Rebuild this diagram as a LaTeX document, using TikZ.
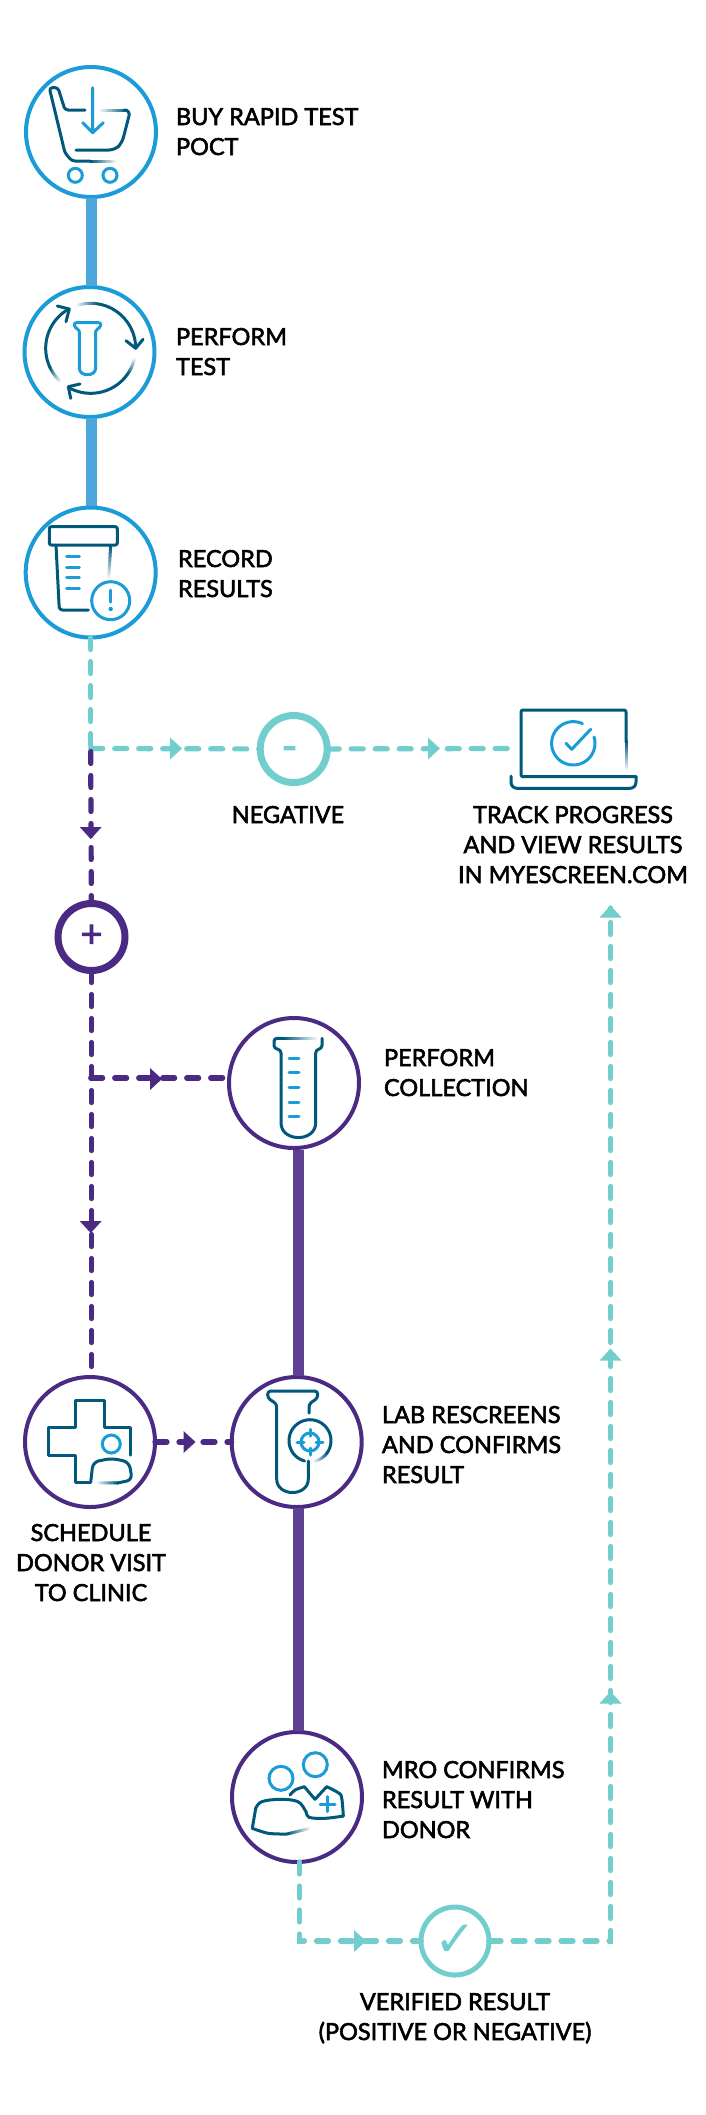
\documentclass[tikz,border=0pt]{standalone}
\usepackage{fontspec}
\setmainfont{Lato}[FakeBold=2.4]
\newfontfamily\dejavu{DejaVu Sans}
\definecolor{bluec}{HTML}{1B9CD8}
\definecolor{barblue}{HTML}{4DA6DC}
\definecolor{purp}{HTML}{4B2A84}
\definecolor{barpurp}{HTML}{5F4194}
\definecolor{tealc}{HTML}{72CECD}
\definecolor{dark}{HTML}{00597B}
\tikzset{
  ring/.style={circle,draw=#1,fill=white,line width=4pt,inner sep=0pt,outer sep=0pt,minimum size=130pt},
  dot/.style={circle,draw=#1,fill=white,line width=7pt,inner sep=0pt,outer sep=0pt,minimum size=67pt},
  lbl/.style={font=\fontsize{23.5}{30}\selectfont,inner sep=0pt,outer sep=0pt,text=black},
  lleft/.style={lbl,align=left,anchor=base west},
  lmid/.style={lbl,align=center,anchor=base},
  tbar/.style={line width=11pt,draw=#1},
  flow/.style={line width=5.2pt,draw=#1,line cap=round,dash pattern=on 12pt off 12pt},
  ic/.style={line width=3pt,draw=dark,line join=round,line cap=round},
  icb/.style={line width=3pt,draw=bluec,line join=round,line cap=round},
}
\newcommand{\tipmark}[4]{\begin{scope}[shift={(#1,#2)},rotate=#3]\fill[#4] (-6,-11) -- (6,0) -- (-6,11) -- cycle;\end{scope}}
\newcommand{\fadeline}[4]{\foreach \i in {0,...,11}{\pgfmathsetmacro\fa{\i/12}\pgfmathsetmacro\fb{min(1,(\i+1.2)/12)}\pgfmathsetmacro\fc{100*(1-\i/12)}\draw[ic,line cap=butt,draw=dark!\fc!white] ({#1+(#3-#1)*\fa},{#2+(#4-#2)*\fa}) -- ({#1+(#3-#1)*\fb},{#2+(#4-#2)*\fb});}}
\newcommand{\fadearc}[5]{\foreach \i in {0,...,11}{\pgfmathsetmacro\fa{#4+(#5-#4)*\i/12}\pgfmathsetmacro\fb{#4+(#5-#4)*min(1,(\i+1.2)/12)}\pgfmathsetmacro\fc{100*(1-\i/12)}\draw[ic,line cap=butt,draw=dark!\fc!white] ({#1+#3*cos(\fa)},{#2-#3*sin(\fa)}) -- ({#1+#3*cos(\fb)},{#2-#3*sin(\fb)});}}
\newcommand{\solidarc}[6]{\draw[#6] plot[domain=#4:#5,samples=40] ({#1+#3*cos(\x)},{#2-#3*sin(\x)});}
\begin{document}
\begin{tikzpicture}[x=1pt,y=-1pt]
\useasboundingbox (0,0) rectangle (705,2115);
% named points
\coordinate (split) at (90.7,748.5);
\coordinate (branch) at (90.7,1078);
\coordinate (lapin) at (513,748.5);
\coordinate (corner1) at (299.5,1941);
\coordinate (corner2) at (610.5,1941);
\coordinate (lapout) at (610.5,908);
% connectors (below nodes)
\node[ring=bluec] (c1) at (91,132) {};
\node[ring=bluec] (c2) at (89.5,352) {};
\node[ring=bluec] (c3) at (90.7,572.5) {};
\node[dot=tealc] (neg) at (293.7,749) {};
\node[dot=purp] (pos) at (91.5,937) {};
\node[ring=purp] (coll) at (294,1083) {};
\node[ring=purp] (clinic) at (90,1442) {};
\node[ring=purp] (lab) at (296.7,1442) {};
\node[ring=purp] (mro) at (297,1797) {};
\node[circle,draw=tealc,fill=white,line width=5pt,inner sep=0pt,outer sep=0pt,minimum size=68pt] (ok) at (455,1941) {};
\draw[tbar=barblue] (91,198) -- (91,286);
\draw[tbar=barblue] (91,418) -- (91,506);
\draw[tbar=barpurp] (298,1150) -- (298,1376);
\draw[tbar=barpurp] (298,1508) -- (298,1731);
\draw[flow=tealc] (c3) -- (split);
\draw[flow=tealc] (split) -- (neg);
\draw[flow=tealc] (neg) -- (lapin);
\draw[flow=purp] ([yshift=-3pt]split) -- (pos);
\draw[flow=purp] (pos) -- (clinic.north -| pos);
\draw[flow=purp] (branch) -- (branch -| coll.west);
\draw[flow=purp] (clinic) -- (lab);
\draw[flow=tealc] (mro.south -| corner1) -- (corner1) -- (ok);
\draw[flow=tealc] (ok) -- (corner2) -- (lapout);
\tipmark{176}{748.5}{0}{tealc}
\tipmark{434}{748.5}{0}{tealc}
\tipmark{90.7}{833}{-90}{purp}
\tipmark{156}{1079}{0}{purp}
\tipmark{90.7}{1227}{-90}{purp}
\tipmark{189.5}{1442}{0}{purp}
\tipmark{360}{1941}{0}{tealc}
\tipmark{610.5}{911.5}{90}{tealc}
\tipmark{610.5}{1354.5}{90}{tealc}
\tipmark{610.5}{1697.5}{90}{tealc}
% cart
\draw[ic,rounded corners=3pt] (85,110) -- (65,110) -- (58,87.7) -- (49.3,87.7) -- (65,153) -- (72,161) -- (90,161);
\fadeline{90}{161}{116}{161}
\fadeline{128}{110}{100}{110}
\draw[ic,rounded corners=6pt] (125,110) -- (130.5,110) -- (122,143) -- (115,150) -- (76,150);
\draw[icb] (92.7,87.7) -- (92.7,132.7) (82.7,122.7) -- (92.7,132.7) -- (103.3,122.7);
\node[circle,draw=bluec,line width=3pt,minimum size=14pt,inner sep=0pt] (wheelA) at (75.3,175.3) {};
\node[circle,draw=bluec,line width=3pt,minimum size=14pt,inner sep=0pt] (wheelB) at (110,175.3) {};
% cycle + tube
\fadearc{90.7}{348.3}{45}{80}{108}
\solidarc{90.7}{348.3}{45}{80}{0}{ic}
\draw[ic] (126,340.7) -- (135.7,348.3) -- (143,339.3);
\fadearc{90.7}{348.3}{45}{-35}{-13}
\solidarc{90.7}{348.3}{45}{-35}{-120}{ic}
\draw[ic] (80,384) -- (68.3,386.7) -- (70.7,398.3);
\fadearc{90.7}{348.3}{45}{205}{228}
\solidarc{90.7}{348.3}{45}{205}{119}{ic}
\draw[ic] (57.3,306) -- (69.3,309) -- (66,321.7);
\draw[icb,rounded corners=2pt] (74.3,322.7) -- (100.7,322.7) -- (100.7,327.5) -- (95.7,329.5) -- (95.7,366) .. controls (95.7,377) and (79.3,377) .. (79.3,366) -- (79.3,329.5) -- (74.3,327.5) -- cycle;
% cup
\draw[ic,rounded corners=2pt] (49.3,526.7) rectangle (117.3,545);
\draw[ic,rounded corners=3pt] (56,545) -- (59.3,610) -- (88.3,610);
\fadeline{110.7}{545}{108.7}{578}
\draw[icb] (66.7,556.7) -- (79.3,556.7) (66.7,567) -- (79.3,567) (66.7,577.3) -- (79.3,577.3) (66.7,588) -- (79.3,588);
\node[circle,draw=bluec,line width=3pt,minimum size=38pt,inner sep=0pt] (alert) at (110.7,600.7) {};
\draw[icb] (110.7,590) -- (110.7,602);
\fill[bluec] (110.7,609) circle (2.2);
% minus, plus, check as characters
\node[inner sep=0pt,font=\fontsize{44}{44}\selectfont,text=tealc] (minus) at (289.5,754) {-};
\node[inner sep=0pt,font=\fontsize{38}{38}\selectfont,text=purp] (plus) at (91.5,936) {+};
\node[inner sep=0pt,font=\dejavu\fontsize{50}{50}\selectfont,text=tealc] (check) at (455,1941) {✓};
% laptop
\draw[ic,rounded corners=2pt] (626,742) -- (626,710) -- (521,710) -- (521,776.7) -- (636,776.7);
\fadeline{626}{740}{626}{770}
\draw[ic,rounded corners=6pt] (511,776) -- (511,788.3) -- (636,788.3) -- (636,776.7);
\solidarc{573.3}{743.3}{21.7}{65}{377}{icb}
\draw[icb] (566,743.3) -- (571.7,749.3) -- (590.7,729.3);
% collection tube
\fadeline{282}{1038.3}{317}{1038.3}
\draw[ic,rounded corners=3pt] (282,1038.3) -- (274,1038.3) -- (274,1048.3) -- (281,1050) -- (281,1119.7) .. controls (281,1142.5) and (315.7,1142.5) .. (315.7,1119.7) -- (315.7,1050) -- (322,1048.3) -- (322,1038.3);
\foreach \ty in {1058.3,1072.7,1087.3,1102,1116.7}{\draw[icb] (289,\ty) -- (299,\ty);}
% clinic
\draw[ic] (130.7,1455) -- (130.7,1427.7) -- (104,1427.7) -- (104,1400) -- (75.7,1400) -- (75.7,1427.7) -- (48.3,1427.7) -- (48.3,1455.7) -- (75.7,1455.7) -- (75.7,1482.3) -- (90.7,1482.3);
\draw[ic,rounded corners=6pt] (90.7,1482.3) -- (93,1462) -- (111.7,1458.3) -- (129,1462) -- (132.3,1480) -- (117,1483);
\fadeline{118}{1483}{97}{1482.7}
\node[circle,draw=bluec,line width=3pt,minimum size=18pt,inner sep=0pt] (head) at (111.3,1444) {};
% lab tube
\draw[ic,rounded corners=3pt] (309,1413) -- (309,1404) -- (317.7,1398) -- (317.7,1391) -- (267.7,1391) -- (267.7,1398) -- (276.7,1404) -- (276.7,1476) .. controls (276.7,1497) and (308.3,1497) .. (308.3,1476) -- (308.3,1461);
\solidarc{310}{1440.7}{21}{255}{-35}{ic}
\fadearc{310}{1440.7}{21}{-35}{-80}
\node[circle,draw=bluec,line width=3pt,minimum size=18pt,inner sep=0pt] (target) at (310,1442) {};
\draw[icb] (310,1429.3) -- (310,1436) (310,1448) -- (310,1455) (297,1442) -- (304,1442) (316,1442) -- (323,1442);
% mro
\node[circle,draw=bluec,line width=3pt,minimum size=24pt,inner sep=0pt] (headA) at (281,1778.3) {};
\node[circle,draw=bluec,line width=3pt,minimum size=24pt,inner sep=0pt] (headB) at (315.3,1764.7) {};
\draw[ic] plot[smooth,tension=0.55] coordinates {(287,1834) (268.3,1833.3) (252.3,1828.3)};
\draw[ic] (252.3,1828.3) -- (255.7,1808.3);
\draw[ic] plot[smooth,tension=0.6] coordinates {(255.7,1808.3) (261.7,1801.7) (280,1799.3) (298,1801.7) (306,1811.7) (309,1817.3) (325,1818.3) (343.3,1816)};
\draw[ic] plot[smooth,tension=0.3] coordinates {(343.3,1816) (341,1795) (326.7,1786.7)};
\draw[ic] (326.7,1786.7) -- (315,1799.3) -- (304.3,1786.7);
\draw[ic] plot[smooth,tension=0.6] coordinates {(304.3,1786.7) (295,1790) (290,1795)};
\fadeline{287}{1834}{310}{1828.3}
\draw[icb] (327.7,1796.5) -- (327.7,1811.5) (320.2,1804) -- (335.2,1804);
% labels (anchored at the baseline of the last line)
\node[lleft] (t1) at (176,155) {BUY RAPID TEST\\POCT};
\node[lleft] (t2) at (176,375) {PERFORM\\TEST};
\node[lleft] (t3) at (178,597) {RECORD\\RESULTS};
\node[lmid] (t4) at (288,823) {NEGATIVE};
\node[lmid] (t5) at (573,883) {TRACK PROGRESS\\AND VIEW RESULTS\\IN MYESCREEN.COM};
\node[lleft] (t6) at (384,1096) {PERFORM\\COLLECTION};
\node[lleft] (t7) at (382,1483) {LAB RESCREENS\\AND CONFIRMS\\RESULT};
\node[lmid] (t8) at (91,1601) {SCHEDULE\\DONOR VISIT\\TO CLINIC};
\node[lleft] (t9) at (382,1838) {MRO CONFIRMS\\RESULT WITH\\DONOR};
\node[lmid] (t10) at (455,2040) {VERIFIED RESULT\\(POSITIVE OR NEGATIVE)};
\end{tikzpicture}
\end{document}
